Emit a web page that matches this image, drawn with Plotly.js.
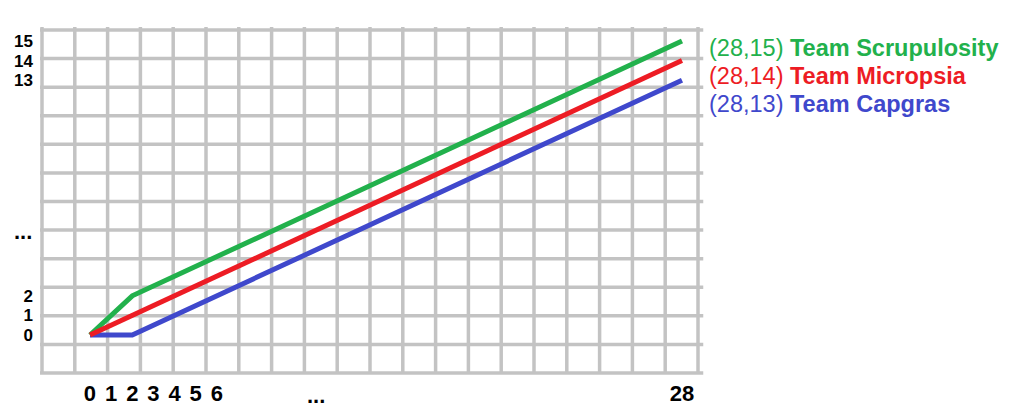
<!DOCTYPE html>
<html>
<head>
<meta charset="utf-8">
<script src="https://cdn.plot.ly/plotly-3.0.1.min.js"></script>
<style>html,body{margin:0;padding:0;background:#fff;}#chart{width:1024px;height:420px;}</style>
</head>
<body>
<div id="chart"></div>
<script>
// ---- data ----
const teamNames = ['Team Scrupulosity', 'Team Micropsia', 'Team Capgras'];
const teamColors = ['#22b14c', '#ed1c24', '#3f48cc'];
const scrupX = [0, 2, 28];
const scrupY = [0, 2, 15];
const microX = [0, 28];
const microY = [0, 14];
const capX = [0, 2, 28];
const capY = [0, 0, 13];
const xTickVals = [0, 1, 2, 3, 4, 5, 6, 28];
const yTickVals = [0, 1, 2, 13, 14, 15];

const series = [
  {name: teamNames[0], x: scrupX, y: scrupY, color: teamColors[0]},
  {name: teamNames[1], x: microX, y: microY, color: teamColors[1]},
  {name: teamNames[2], x: capX, y: capY, color: teamColors[2]}
];
const drawOrder = [2, 0, 1];

const traces = drawOrder.map(i => ({
  type: 'scatter', mode: 'lines', name: series[i].name,
  x: series[i].x, y: series[i].y,
  line: {color: series[i].color, width: 5},
  hoverinfo: 'skip', showlegend: false
}));

// background grid (decorative), 20 x 12 cells
const gridColor = '#c3c3c3';
const shapes = [];
for (let k = 0; k <= 20; k++) {
  shapes.push({type: 'line', xref: 'paper', yref: 'paper', x0: k / 20, x1: k / 20, y0: 0, y1: 1.009,
    line: {color: gridColor, width: 3.5}, layer: 'below'});
}
for (let k = 0; k <= 12; k++) {
  shapes.push({type: 'line', xref: 'paper', yref: 'paper', x0: -0.003, x1: 1.008, y0: k / 12, y1: k / 12,
    line: {color: gridColor, width: 3.5}, layer: 'below'});
}

const fam = 'Liberation Sans, Arial, sans-serif';
const xTickFont = {family: fam, size: 22, color: '#000', weight: 700};
const yTickFont = {family: fam, size: 17, color: '#000', weight: 700};
const endLabelY = [0.9484, 0.8659, 0.7843];
const annotations = series.map((s, i) => ({
  xref: 'x', yref: 'paper', x: s.x[s.x.length - 1], y: endLabelY[i],
  xanchor: 'left', yanchor: 'middle', xshift: 25, showarrow: false,
  text: '(' + s.x[s.x.length - 1] + ',' + s.y[s.y.length - 1] + ') <b>' + s.name + '</b>',
  font: {family: fam, size: 23.5, color: s.color}
}));
annotations.push({xref: 'paper', yref: 'paper', x: (23 - 42) / 656, y: (373 - 231) / 343,
  xanchor: 'center', yanchor: 'middle', showarrow: false, text: '...', font: xTickFont});
annotations.push({xref: 'paper', yref: 'paper', x: (316 - 42) / 656, y: (373 - 395) / 343,
  xanchor: 'center', yanchor: 'middle', showarrow: false, text: '...', font: xTickFont});

const layout = {
  width: 1024, height: 420,
  margin: {l: 42, r: 326, t: 30, b: 47, pad: 0},
  paper_bgcolor: '#ffffff', plot_bgcolor: 'rgba(0,0,0,0)',
  xaxis: {range: [-2.270, 28.757], showgrid: false, zeroline: false, showline: false,
    tickmode: 'array', tickvals: xTickVals, ticks: '', tickfont: xTickFont, ticklabelstandoff: 5, fixedrange: true},
  yaxis: {range: [-1.939, 15.561], showgrid: false, zeroline: false, showline: false,
    tickmode: 'array', tickvals: yTickVals, ticks: '', tickfont: yTickFont, ticklabelstandoff: 8, fixedrange: true},
  shapes: shapes,
  annotations: annotations,
  showlegend: false
};

Plotly.newPlot('chart', traces, layout, {displayModeBar: false, staticPlot: true});
</script>
</body>
</html>
